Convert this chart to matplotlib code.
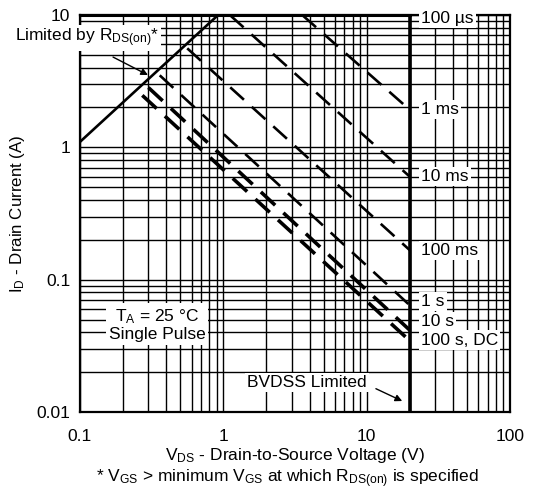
import matplotlib
matplotlib.use("Agg")
import matplotlib.pyplot as plt
import numpy as np

plt.rcParams['font.family'] = ['Liberation Sans', 'DejaVu Sans']
plt.rcParams['mathtext.fontset'] = 'custom'
plt.rcParams['mathtext.rm'] = 'Liberation Sans'
plt.rcParams['mathtext.it'] = 'Liberation Sans'

# ---- data ----
pulse_labels = ['100 µs', '1 ms', '10 ms', '100 ms', '1 s', '10 s', '100 s, DC']
v_start = [0.92, 3.55, 1.11, 0.56, 0.36, 0.30, 0.272]
i_start = [10.0, 10.0, 10.0, 5.6, 3.5, 2.83, 2.47]
v_end = [20.0, 20.0, 20.0, 20.0, 20.0, 20.0, 20.0]
i_end = [10.0, 1.92, 0.60, 0.167, 0.064, 0.0415, 0.0345]
label_y = [9.4, 1.92, 0.60, 0.167, 0.068, 0.048, 0.035]

rds_v = [0.1, 0.92]
rds_i = [1.1, 10.0]
bvdss_v = 20.0

x_ticks = [0.1, 1, 10, 100]
x_ticklabels = ['0.1', '1', '10', '100']
y_ticks = [0.01, 0.1, 1, 10]
y_ticklabels = ['0.01', '0.1', '1', '10']

FS = 12.5

fig = plt.figure(figsize=(5.37, 4.93), dpi=100)
ax = fig.add_axes([80/537, 1-412/493, 430/537, 397/493])
ax.set_xscale('log')
ax.set_yscale('log')
ax.set_xlim(0.1, 100)
ax.set_ylim(0.01, 10)

ax.grid(True, which='both', color='black', lw=1.0)
ax.set_axisbelow(True)
ax.tick_params(which='both', length=0, labelsize=FS)
ax.tick_params(axis='x', pad=12)
ax.tick_params(axis='y', pad=7)
ax.set_xticks(x_ticks)
ax.set_xticklabels(x_ticklabels)
ax.set_yticks(y_ticks)
ax.set_yticklabels(y_ticklabels)
for s in ax.spines.values():
    s.set_linewidth(1.6)

# R_DS(on) limit
ax.plot(rds_v, rds_i, color='black', lw=1.9, solid_capstyle='butt', zorder=3)
# BVDSS
ax.plot([bvdss_v, bvdss_v], [0.01, 10], color='black', lw=2.6, zorder=3)

# pulse lines
for k, lab in enumerate(pulse_labels):
    if k == 0:
        ax.plot([0.1, v_end[k]], [i_start[k], i_end[k]], color='black', lw=2.2,
                zorder=3, clip_on=False)
    else:
        lw = 2.6 if k >= 5 else 1.9
        ax.plot([v_start[k], v_end[k]], [i_start[k], i_end[k]], color='black',
                lw=lw, ls=(0, (7, 4) if k < 5 else (5.4, 3.1)), zorder=3)
    ax.text(24.0, label_y[k], lab, fontsize=FS, va='center', ha='left', zorder=5,
            bbox=dict(facecolor='white', edgecolor='none', pad=1.5))

# annotations
ax.text(0.0352, 6.7, r'Limited by R$_\mathregular{DS(on)}$*', fontsize=FS,
        va='center', ha='left', zorder=5, clip_on=False,
        bbox=dict(facecolor='white', edgecolor='none', pad=1.5))
ax.annotate('', xy=(0.298, 3.52), xytext=(0.170, 4.81), zorder=5,
            arrowprops=dict(arrowstyle='-|>', color='black', lw=1.0,
                            shrinkA=0, shrinkB=0, mutation_scale=10))

ax.text(0.345, 0.0454, 'T$_\\mathregular{A}$ = 25 °C\nSingle Pulse', fontsize=FS,
        ha='center', va='center', zorder=5, linespacing=1.1,
        bbox=dict(facecolor='white', edgecolor='none', pad=2))

ax.text(10.0, 0.0166, 'BVDSS Limited', fontsize=FS, va='center', ha='right', zorder=5,
        bbox=dict(facecolor='white', edgecolor='none', pad=1.5))
ax.annotate('', xy=(17.7, 0.0121), xytext=(11.6, 0.0150), zorder=5,
            arrowprops=dict(arrowstyle='-|>', color='black', lw=1.0,
                            shrinkA=0, shrinkB=0, mutation_scale=10))

ax.set_ylabel(r'I$_\mathregular{D}$ - Drain Current (A)', fontsize=12.2, labelpad=7)
ax.set_xlabel(r'V$_\mathregular{DS}$ - Drain-to-Source Voltage (V)', fontsize=FS, labelpad=2)
fig.text(0.535, 1-479/493, r'* V$_\mathregular{GS}$ > minimum V$_\mathregular{GS}$ at which R$_\mathregular{DS(on)}$ is specified',
         fontsize=FS, ha='center', va='center')

fig.savefig('out.png', dpi=100)
